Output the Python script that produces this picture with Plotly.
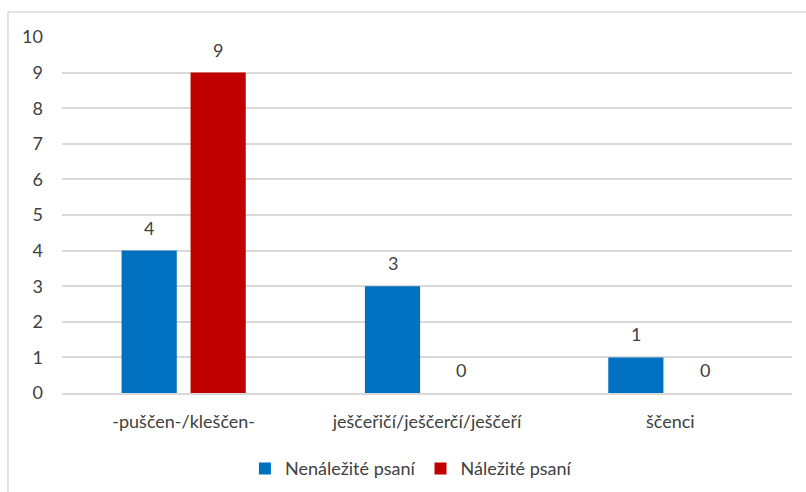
import plotly.graph_objects as go

categories = ["-puščen-/kleščen-", "ješčeřičí/ješčerčí/ješčeří", "ščenci"]
nenalezite = [4, 3, 1]
nalezite = [9, 0, 0]
y_ticks = list(range(0, 11))

FONT = "Lato"
TEXT = "#404040"
GRID = "#d9d9d9"
FS = 18

BARGAP = 0.433
GROUPGAP = 0.2

fig = go.Figure()
fig.add_trace(go.Bar(
    name="Nenáležité psaní", x=categories, y=nenalezite,
    marker=dict(color="#0070C0", line=dict(width=0)),
))
fig.add_trace(go.Bar(
    name="Náležité psaní", x=categories, y=nalezite,
    marker=dict(color="#C00000", line=dict(width=0)),
))

# value labels placed over each bar of the group
slot = (1 - BARGAP) / 2
for k, series in enumerate([nenalezite, nalezite]):
    offset = (k - 0.5) * slot
    for i, v in enumerate(series):
        fig.add_annotation(x=i + offset, y=v, text=str(v), showarrow=False,
                           yanchor="bottom", yshift=10,
                           font=dict(family=FONT, size=FS, color=TEXT))

fig.update_layout(
    width=806, height=492,
    margin=dict(l=62, r=14, t=37, b=99, autoexpand=False),
    paper_bgcolor="white", plot_bgcolor="white",
    font=dict(family=FONT, size=FS, color=TEXT),
    barmode="group", bargap=BARGAP, bargroupgap=GROUPGAP,
    showlegend=True,
    legend=dict(orientation="h", x=0.478, xanchor="center",
                yref="container", y=0.085, yanchor="top",
                font=dict(family=FONT, size=FS, color=TEXT), itemwidth=30,
                traceorder="normal"),
    xaxis=dict(showgrid=False, showline=True, linecolor=GRID, linewidth=1.5,
               ticks="", ticklabelstandoff=12, tickfont=dict(size=FS, color=TEXT)),
    yaxis=dict(range=[0, 10], tickvals=y_ticks, showgrid=True, gridcolor=GRID,
               gridwidth=1.5, zeroline=False, showline=False, ticks="",
               ticklabelstandoff=18, tickfont=dict(size=FS, color=TEXT)),
)

# outer chart frame (left and top edges)
fig.add_shape(type="line", xref="paper", yref="paper", x0=-0.074, x1=1.03,
              y0=1.070, y1=1.070, line=dict(color=GRID, width=1.5))
fig.add_shape(type="line", xref="paper", yref="paper", x0=-0.074, x1=-0.074,
              y0=1.070, y1=-0.30, line=dict(color=GRID, width=1.5))

fig.write_html("out.html")
